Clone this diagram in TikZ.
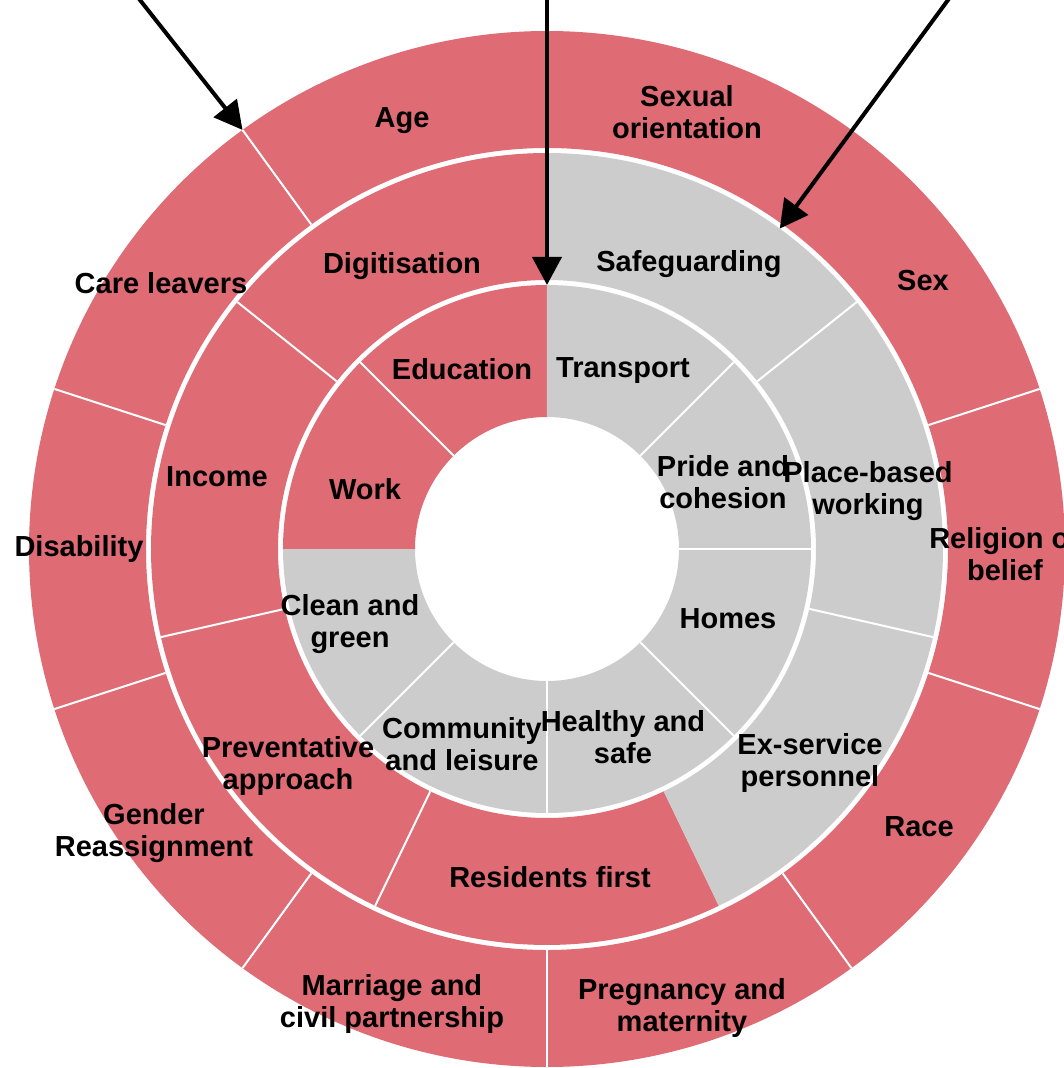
\documentclass[tikz,border=0pt]{standalone}
\usepackage{fontspec}
\setmainfont{Liberation Sans}
\usetikzlibrary{arrows.meta}
\definecolor{segred}{RGB}{223,107,116}
\definecolor{seggrey}{RGB}{204,204,204}
\newcommand{\ringseg}[5]{%
  \fill[#1] (#2:#4) arc[start angle=#2, end angle=#3, radius=#4] -- (#3:#5) arc[start angle=#3, end angle=#2, radius=#5] -- cycle;}
\begin{document}
\begin{tikzpicture}[x=0.75pt,y=0.75pt,
  lbl/.style={align=center, inner sep=0pt, text=black, font=\fontsize{21.75}{24}\selectfont\bfseries},
  divider/.style={white, line width=1.5pt},
  pointer/.style={black, line width=3pt, -{Triangle[length=21pt,width=21.75pt]}}]
\useasboundingbox (-547,-519) rectangle (517,549);
% outer ring (10 segments, all red)
\foreach \a in {90,126,162,198,234,270,306,342,378,414}{
  \pgfmathsetmacro{\b}{\a+36}
  \ringseg{segred}{\a}{\b}{401}{518}
}
% middle ring (7 segments)
\ringseg{segred}{90}{141.4286}{269}{396}
\ringseg{segred}{141.4286}{192.8571}{269}{396}
\ringseg{segred}{192.8571}{244.2857}{269}{396}
\ringseg{segred}{244.2857}{295.7143}{269}{396}
\ringseg{seggrey}{295.7143}{347.1429}{269}{396}
\ringseg{seggrey}{347.1429}{398.5714}{269}{396}
\ringseg{seggrey}{38.5714}{90}{269}{396}
% inner ring (8 segments)
\ringseg{segred}{90}{135}{132}{264}
\ringseg{segred}{135}{180}{132}{264}
\ringseg{seggrey}{180}{225}{132}{264}
\ringseg{seggrey}{225}{270}{132}{264}
\ringseg{seggrey}{270}{315}{132}{264}
\ringseg{seggrey}{315}{360}{132}{264}
\ringseg{seggrey}{0}{45}{132}{264}
\ringseg{seggrey}{45}{90}{132}{264}
% white dividers
\foreach \a in {90,126,162,198,234,270,306,342,18,54}{
  \draw[divider] (\a:401) -- (\a:518);
}
\foreach \a in {141.4286,192.8571,244.2857,347.1429,38.5714}{
  \draw[divider] (\a:269) -- (\a:396);
}
\foreach \a in {135,0,45,225,270,315}{
  \draw[divider] (\a:132) -- (\a:264);
}
% outer labels
\node[lbl] (age) at (-145,428) {Age};
\node[lbl] (sexor) at (140,437) {Sexual\\orientation};
\node[lbl] (sex) at (376,268) {Sex};
\node[lbl] (relig) at (458,-5) {Religion or\\belief};
\node[lbl] (race) at (372,-278) {Race};
\node[lbl] (preg) at (135,-459) {Pregnancy and\\maternity};
\node[lbl] (marr) at (-155,-455) {Marriage and\\civil partnership};
\node[lbl] (gender) at (-393,-284) {Gender\\Reassignment};
\node[lbl] (disab) at (-468,0) {Disability};
\node[lbl] (care) at (-386,266) {Care leavers};
% middle labels
\node[lbl] (digit) at (-145,283) {Digitisation};
\node[lbl] (safe) at (142,285) {Safeguarding};
\node[lbl] (place) at (321,58) {Place-based\\working};
\node[lbl] (exserv) at (263,-214) {Ex-service\\personnel};
\node[lbl] (resid) at (3,-328) {Residents first};
\node[lbl] (prev) at (-259,-217) {Preventative\\approach};
\node[lbl] (income) at (-330,72) {Income};
% inner labels
\node[lbl] (educ) at (-85,180) {Education};
\node[lbl] (trans) at (76,178) {Transport};
\node[lbl] (pride) at (176,67) {Pride and\\cohesion};
\node[lbl] (homes) at (181,-70) {Homes};
\node[lbl] (health) at (76,-188) {Healthy and\\safe};
\node[lbl] (comm) at (-85,-195) {Community\\and leisure};
\node[lbl] (clean) at (-197,-75) {Clean and\\green};
\node[lbl] (work) at (-182,60) {Work};
% arrows
\coordinate (s1) at (-415.7,560);
\coordinate (t1) at (126:518);
\coordinate (s2) at (0,560);
\coordinate (t2) at (90:264);
\coordinate (s3) at (409.1,560);
\coordinate (t3) at (54:396);
\draw[pointer] (s1) -- (t1);
\draw[pointer] (s2) -- (t2);
\draw[pointer] (s3) -- (t3);
\end{tikzpicture}
\end{document}
